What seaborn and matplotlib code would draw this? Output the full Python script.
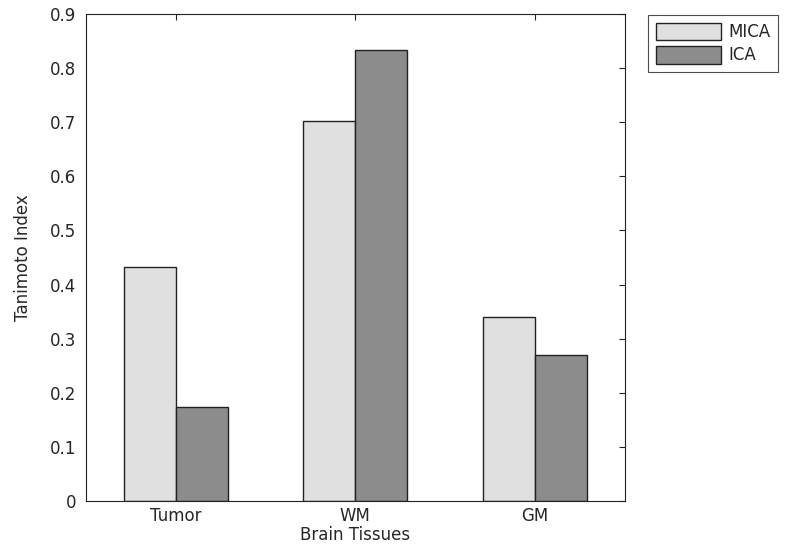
import pandas as pd
import matplotlib
matplotlib.use('Agg')
import matplotlib.pyplot as plt
import seaborn as sns

# data
tissues = ['Tumor', 'WM', 'GM']
methods = ['MICA', 'ICA']
mica = [0.432, 0.702, 0.340]
ica = [0.174, 0.834, 0.270]
colors = ['#e0e0e0', '#8c8c8c']

df = pd.DataFrame({
    'tissue': tissues * 2,
    'method': [methods[0]] * 3 + [methods[1]] * 3,
    'value': mica + ica,
})

sns.set_style('white')
plt.rcParams['font.family'] = ['DejaVu Sans']

fig = plt.figure(figsize=(7.88, 5.52), dpi=100)
ax = fig.add_axes([0.109, 0.0924, 0.684, 0.8822])

sns.barplot(data=df, x='tissue', y='value', hue='method', order=tissues,
            hue_order=methods, palette=colors, width=0.58, gap=0,
            edgecolor='#222222', linewidth=1.0, saturation=1, ax=ax)

ax.set_xlim(-0.5, 2.5)
ax.set_ylim(0, 0.9)
ax.set_yticks([i / 10 for i in range(10)])
ax.set_yticklabels(['0'] + ['%.1f' % (i / 10) for i in range(1, 10)])
ax.tick_params(direction='in', top=True, right=True, length=4, width=0.8,
               labelsize=12, colors='#222222', labelcolor='#262626')
ax.tick_params(axis='x', pad=4)
ax.tick_params(axis='y', pad=7)
for s in ax.spines.values():
    s.set_visible(True)
    s.set_color('#222222')
    s.set_linewidth(0.8)

ax.set_xlabel('Brain Tissues', fontsize=12, color='#262626', labelpad=1)
ax.set_ylabel('Tanimoto Index', fontsize=12, color='#262626', labelpad=13)

ax.legend(loc='upper left', bbox_to_anchor=(648 / 788, 1 - 15 / 552),
          bbox_transform=fig.transFigure, borderaxespad=0, fontsize=12,
          frameon=True, fancybox=False, edgecolor='#222222',
          handlelength=3.95, handleheight=1.25, handletextpad=0.45,
          borderpad=0.45, labelspacing=0.3, title=None)
ax.get_legend().get_frame().set_linewidth(0.8)

fig.savefig('out.png', dpi=100)
